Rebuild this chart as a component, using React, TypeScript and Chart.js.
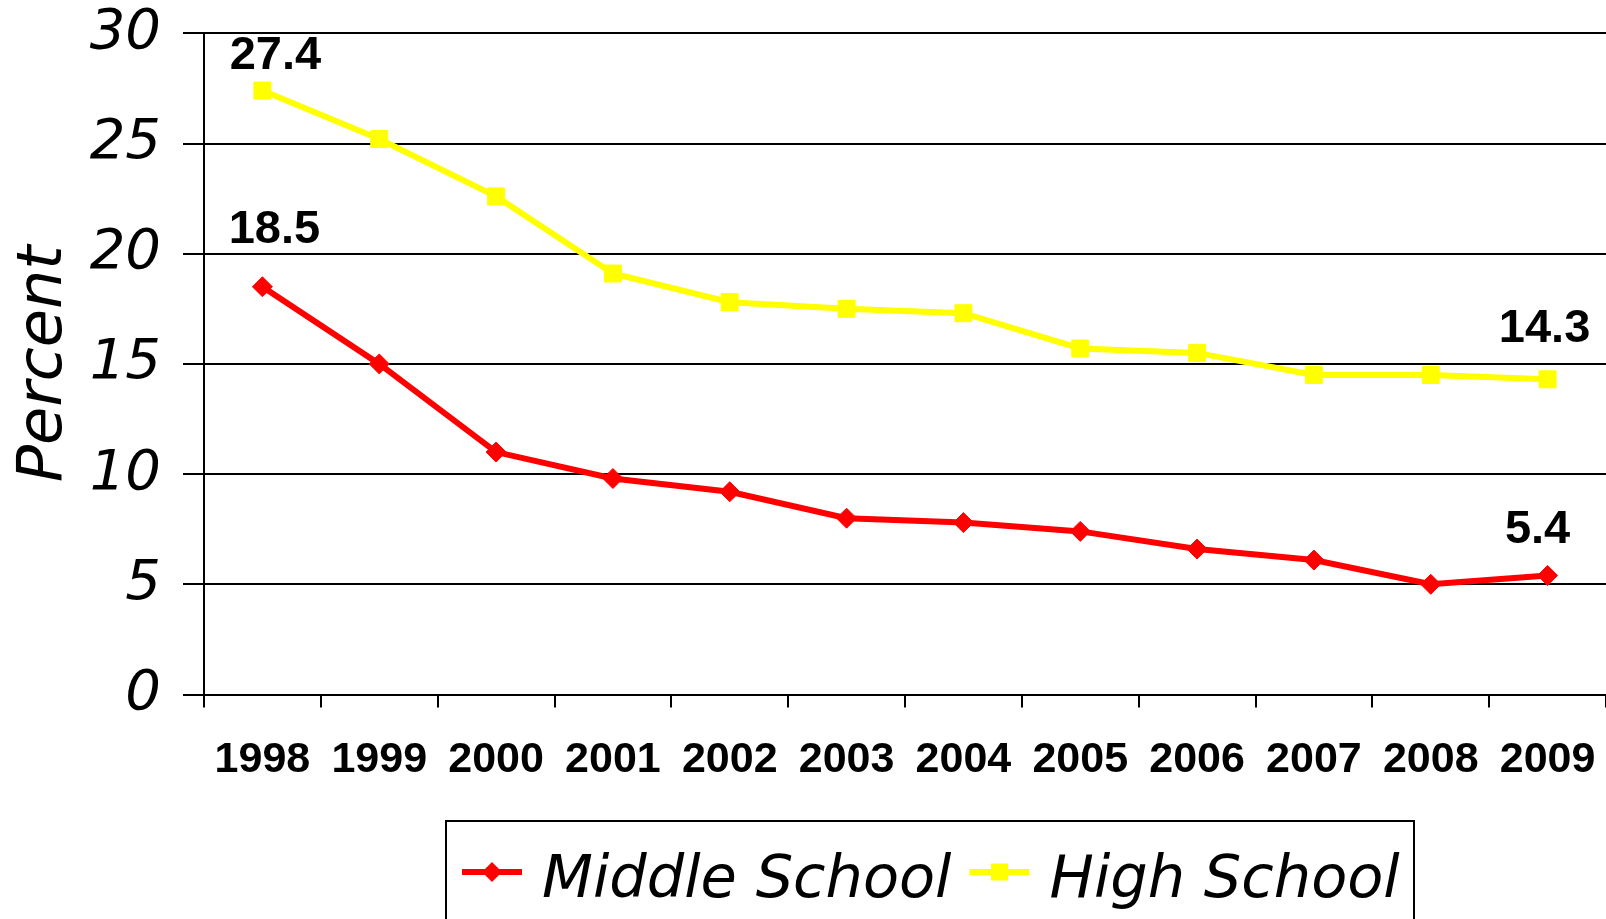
import React, { useEffect, useRef } from "react";
import { Chart, registerables } from "chart.js";

Chart.register(...registerables);

const years = ["1998", "1999", "2000", "2001", "2002", "2003", "2004", "2005", "2006", "2007", "2008", "2009"];
const middleSchool = [18.5, 15.0, 11.0, 9.8, 9.2, 8.0, 7.8, 7.4, 6.6, 6.1, 5.0, 5.4];
const highSchool = [27.4, 25.2, 22.6, 19.1, 17.8, 17.5, 17.3, 15.7, 15.5, 14.5, 14.5, 14.3];
const seriesNames = ["Middle School", "High School"];
const yMin = 0;
const yMax = 30;
const yStep = 5;
const axisTitle = "Percent";

// which points carry a value label (dataset index, point index) and label offsets (style)
const valueLabels = [
  { ds: 1, i: 0, dx: 13, dy: -35 },
  { ds: 0, i: 0, dx: 12, dy: -57 },
  { ds: 1, i: 11, dx: -3, dy: -50 },
  { ds: 0, i: 11, dx: -10, dy: -45 },
];

const THIN = "'DejaVu Sans', 'Century Gothic', sans-serif";
const BOLD = "'Liberation Sans', Arial, sans-serif";

const valueLabelPlugin = {
  id: "valueLabels",
  afterDatasetsDraw(chart: any) {
    const ctx = chart.ctx;
    ctx.save();
    ctx.font = `bold 47px ${BOLD}`;
    ctx.fillStyle = "#000";
    ctx.textAlign = "center";
    ctx.textBaseline = "middle";
    for (const l of valueLabels) {
      const meta = chart.getDatasetMeta(l.ds);
      const pt = meta.data[l.i];
      const v = chart.data.datasets[l.ds].data[l.i] as number;
      ctx.fillText(v.toFixed(1), pt.x + l.dx, pt.y + l.dy);
    }
    ctx.restore();
  },
};

function drawMarker(ctx: CanvasRenderingContext2D, style: string, x: number, y: number, r: number, color: string) {
  ctx.fillStyle = color;
  ctx.beginPath();
  if (style === "rectRot") {
    ctx.moveTo(x - r, y);
    ctx.lineTo(x, y - r);
    ctx.lineTo(x + r, y);
    ctx.lineTo(x, y + r);
  } else {
    const s = r * Math.SQRT1_2;
    ctx.rect(x - s, y - s, 2 * s, 2 * s);
  }
  ctx.closePath();
  ctx.fill();
}

const boxLegendPlugin = {
  id: "boxLegend",
  afterDraw(chart: any) {
    const ctx = chart.ctx;
    ctx.save();
    const boxLeft = 446;
    const boxTop = 821;
    const boxRight = 1414;
    ctx.strokeStyle = "#000";
    ctx.lineWidth = 2;
    ctx.strokeRect(boxLeft, boxTop, boxRight - boxLeft, 140);
    ctx.font = `italic 59px ${THIN}`;
    ctx.textBaseline = "alphabetic";
    ctx.textAlign = "left";
    let x = 462;
    const cy = 872;
    chart.data.datasets.forEach((ds: any) => {
      ctx.strokeStyle = ds.borderColor;
      ctx.lineWidth = 6;
      ctx.beginPath();
      ctx.moveTo(x, cy);
      ctx.lineTo(x + 60, cy);
      ctx.stroke();
      drawMarker(ctx, ds.pointStyle, x + 30, cy, ds.pointStyle === "rectRot" ? 10 : 12, ds.borderColor);
      x += 80;
      ctx.fillStyle = "#000";
      ctx.fillText(ds.label, x, 897);
      x += ctx.measureText(ds.label).width + 18;
    });
    ctx.restore();
  },
};

export default function App() {
  const ref = useRef<HTMLCanvasElement>(null);

  useEffect(() => {
    document.body.style.margin = "0";
    const canvas = ref.current!;
    const chart = new Chart(canvas, {
      type: "line",
      data: {
        labels: years,
        datasets: [
          {
            label: seriesNames[0],
            data: middleSchool,
            borderColor: "#FF0000",
            backgroundColor: "#FF0000",
            borderWidth: 6,
            pointStyle: "rectRot",
            pointRadius: 10,
            pointBorderWidth: 1,
            pointBackgroundColor: "#FF0000",
            pointBorderColor: "#FF0000",
            tension: 0,
          },
          {
            label: seriesNames[1],
            data: highSchool,
            borderColor: "#FFFF00",
            backgroundColor: "#FFFF00",
            borderWidth: 6,
            pointStyle: "rect",
            pointRadius: 12,
            pointBorderWidth: 1,
            pointBackgroundColor: "#FFFF00",
            pointBorderColor: "#FFFF00",
            tension: 0,
          },
        ],
      },
      options: {
        animation: false,
        responsive: false,
        devicePixelRatio: 1,
        layout: { autoPadding: false, padding: { left: 0, right: 0, top: 33.3, bottom: 124.5 } },
        plugins: {
          legend: { display: false },
          tooltip: { enabled: false },
        },
        scales: {
          x: {
            type: "category",
            offset: true,
            grid: {
              offset: true,
              drawOnChartArea: false,
              drawTicks: true,
              tickLength: 13,
              color: "#000",
              lineWidth: 2,
            },
            border: { display: true, color: "#000", width: 2 },
            ticks: {
              color: "#000",
              font: { family: BOLD, size: 43, weight: "bold" },
              padding: 27,
              maxRotation: 0,
              autoSkip: false,
            },
            afterFit(scale: any) {
              scale.height = 100;
              scale.paddingLeft = 0;
              scale.paddingRight = 0;
            },
          },
          y: {
            min: yMin,
            max: yMax,
            grid: {
              color: "#000",
              lineWidth: 2,
              tickLength: 21,
              drawTicks: true,
            },
            border: { display: true, color: "#000", width: 2 },
            ticks: {
              stepSize: yStep,
              color: "#000",
              font: { family: THIN, size: 56, style: "italic" },
              padding: 22,
            },
            title: {
              display: true,
              text: axisTitle,
              color: "#000",
              font: { family: THIN, size: 62, style: "italic" },
              padding: { top: 8, bottom: 0 },
            },
            afterFit(scale: any) {
              scale.width = 204;
              scale.paddingTop = 0;
              scale.paddingBottom = 0;
            },
          },
        },
      },
      plugins: [valueLabelPlugin, boxLegendPlugin],
    });
    return () => chart.destroy();
  }, []);

  return (
    <div style={{ width: 1606, height: 919, background: "#fff" }}>
      <canvas ref={ref} width={1606} height={919} style={{ display: "block", width: 1606, height: 919 }} />
    </div>
  );
}
